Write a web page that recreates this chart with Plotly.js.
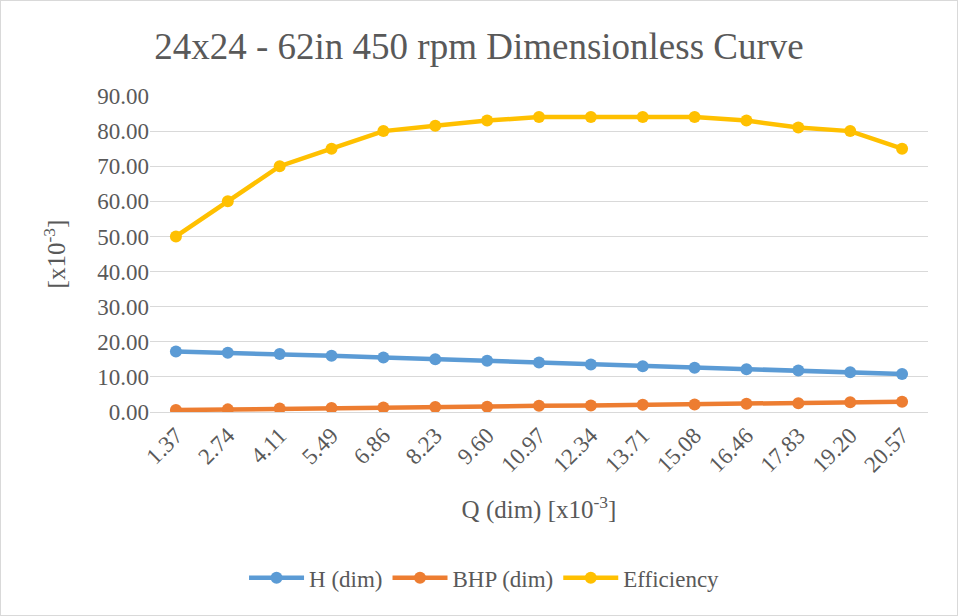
<!DOCTYPE html>
<html><head><meta charset="utf-8">
<script src="https://cdn.plot.ly/plotly-3.0.1.min.js"></script>
<style>html,body{margin:0;padding:0;background:#fff}#c{width:958px;height:616px;box-sizing:border-box;border:1px solid #d9d9d9}</style>
</head><body><div id="c"></div>
<script>
const categories = ["1.37","2.74","4.11","5.49","6.86","8.23","9.60","10.97","12.34","13.71","15.08","16.46","17.83","19.20","20.57"];
const hDim = [17.2,16.9,16.5,16.0,15.5,15.0,14.6,14.1,13.5,13.0,12.6,12.2,11.8,11.3,10.8];
const bhpDim = [0.55,0.75,1.0,1.15,1.25,1.4,1.5,1.75,1.85,2.05,2.15,2.35,2.5,2.8,2.95];
const efficiency = [50,60,70,75,80,81.5,83,84,84,84,84,83,81,80,75];

const FAM = 'Liberation Serif, Times New Roman, serif';
const GREY = '#595959';
function f(size){ return {family:FAM, color:GREY, size:size}; }
function tr(name, y, color){
  return {x:categories, y:y, name:name, type:'scatter', mode:'lines+markers',
    line:{color:color,width:4.5}, marker:{color:color,size:12}};
}
const data = [
  tr('H (dim)', hDim, '#5b9bd5'),
  tr('BHP (dim)', bhpDim, '#ed7d31'),
  tr('Efficiency', efficiency, '#ffc000')
];
const layout = {
  width:956, height:614,
  margin:{l:149,r:29,t:95,b:203},
  paper_bgcolor:'#fff', plot_bgcolor:'#fff',
  font:f(23),
  title:{text:'24x24 - 62in 450 rpm Dimensionless Curve', font:f(37), x:0.5, xanchor:'center', y:0.927, yanchor:'middle'},
  xaxis:{type:'category', range:[-0.5,14.5], tickangle:-45, showgrid:false, showline:true, linecolor:'#d9d9d9', linewidth:1,
    ticks:'', automargin:false, tickfont:f(23),
    title:{text:'Q (dim) [x10<sup>-3</sup>]', font:f(25), standoff:24}},
  yaxis:{range:[0,90], dtick:10, tickformat:'.2f', gridcolor:'#d9d9d9', gridwidth:1, zeroline:false,
    ticks:'', automargin:false, tickfont:f(23),
    title:{text:'[x10<sup>-3</sup>]', font:f(25), standoff:24}},
  legend:{orientation:'h', x:0.43, xanchor:'center', y:-0.525, yanchor:'middle', itemwidth:55, font:f(23)},
  showlegend:true
};
Plotly.newPlot('c', data, layout, {displayModeBar:false, staticPlot:true});
</script></body></html>
